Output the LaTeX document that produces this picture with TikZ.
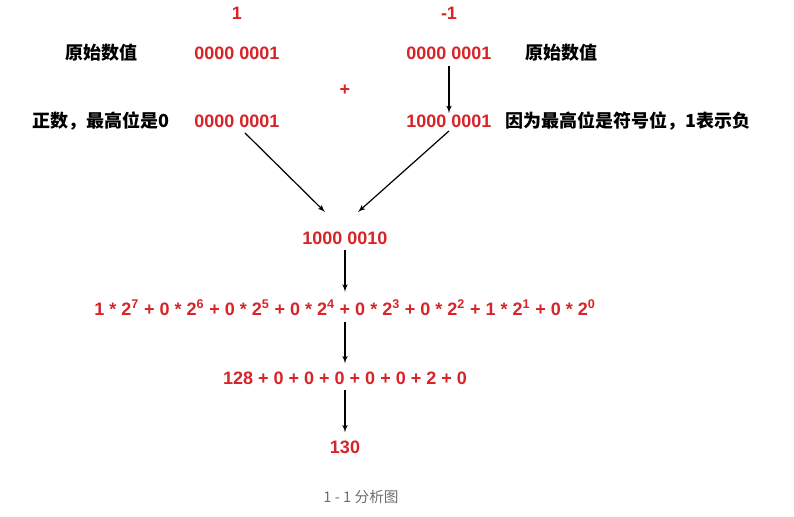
\documentclass[tikz,border=0pt]{standalone}
\usepackage{fontspec}
\setmainfont{Liberation Sans}
\newfontfamily\cjk{Noto Sans CJK SC}
\usetikzlibrary{arrows}
\definecolor{numred}{RGB}{214,36,40}
\definecolor{capgray}{RGB}{110,110,110}
\tikzstyle{num} = [text=numred, font=\bfseries\fontsize{13.5}{16}\selectfont, inner sep=1pt]
\tikzstyle{note} = [text=black, font=\cjk\bfseries\fontsize{13.5}{16}\selectfont, inner sep=1pt]
\tikzstyle{caption} = [text=capgray, font=\cjk\fontsize{11}{13}\selectfont, inner sep=1pt]
\tikzstyle{line} = [draw, -latex', line width=0.9pt]
\newcommand{\pw}[2]{#1 * 2\textsuperscript{#2}}

\begin{document}
\begin{tikzpicture}[x=0.75pt, y=-0.75pt]
        \useasboundingbox (0,0) rectangle (794,517);

        \node[num] (00) at (237,13) {1};

        \node[num] (01) at (449,13) {-1};

        \node[note] (02) at (101,53) {原始数值};
        \node[num] (03) at (237,53) {0000 0001};
        \node[num] (04) at (449,53) {0000 0001};
        \node[note] (05) at (561,53) {原始数值};

        \node[num] (06) at (345,90) {+};

        \node[note] (07) at (101,121) {正数，最高位是0};
        \node[num] (08) at (237,121) {0000 0001};
        \node[num] (09) at (449,121) {1000 0001};
        \node[note] (10) at (628,121) {因为最高位是符号位，1表示负};
        \path[line, shorten <=4pt] (04) -- (09);

        \node[num] (11) at (345,238) {1000 0010};
        \path[line] ([xshift=6pt, yshift=-3pt]08.south) -- ([xshift=-15pt, yshift=13.5pt]11.north);
        \path[line] ([yshift=-1.5pt]09.south) -- ([xshift=9.75pt, yshift=13.5pt]11.north);

        \node[num] (12) at (345,308) {\pw{1}{7} + \pw{0}{6} + \pw{0}{5} + \pw{0}{4} + \pw{0}{3} + \pw{0}{2} + \pw{1}{1} + \pw{0}{0}};
        \path[line, shorten <=3pt, shorten >=5pt] (11) -- (12);

        \node[num] (13) at (345,378) {128 + 0 + 0 + 0 + 0 + 0 + 2 + 0};
        \path[line, shorten <=3pt, shorten >=5pt] (12) -- (13);

        \node[num] (14) at (345,447) {130};
        \path[line, shorten <=3pt, shorten >=5pt] (13) -- (14);

        \node[caption] (15) at (361,497) {1 - 1 分析图};
\end{tikzpicture}
\end{document}
